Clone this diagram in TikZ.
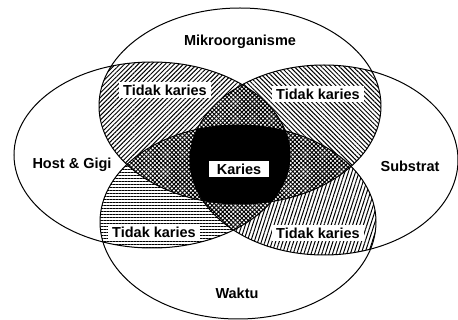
\documentclass[tikz,border=0pt]{standalone}
\usepackage{fontspec}
\setmainfont{Liberation Sans}
\usetikzlibrary{patterns.meta}
\tikzset{
  lbl/.style={font=\bfseries\fontsize{14.5}{16}\selectfont, inner sep=1pt},
  boxlbl/.style={lbl, fill=white, inner xsep=4pt, inner ysep=2.5pt},
  ell/.style={draw=black, line width=1pt},
  hatchA/.style={pattern={Lines[angle=45,distance=3.2pt,line width=1pt]}},
  hatchB/.style={pattern={Lines[angle=-45,distance=3.2pt,line width=1pt]}},
  hatchC/.style={pattern={Lines[angle=0,distance=3pt,line width=1pt]}},
  hatchD/.style={pattern={Lines[angle=72,distance=3.4pt,line width=1pt]}},
  hatchX/.style={pattern={Hatch[angle=45,distance=3pt,line width=1pt]}},
}
\def\Etop{(240,106) ellipse [x radius=141, y radius=98]}
\def\Ehost{(152,155) ellipse [x radius=138, y radius=93]}
\def\Esub{(324,160) ellipse [x radius=134, y radius=95]}
\def\Ewak{(238,222) ellipse [x radius=138, y radius=97]}
\begin{document}
\begin{tikzpicture}[x=1pt,y=-1pt]
\fill[white] (0,0) rectangle (458,320);
\useasboundingbox (0,0) rectangle (458,320);
% two-way overlaps
\begin{scope}\clip \Etop; \clip \Ehost; \fill[hatchA] \Etop; \end{scope}
\begin{scope}\clip \Etop; \clip \Esub; \fill[hatchB] \Etop; \end{scope}
\begin{scope}\clip \Ehost; \clip \Ewak; \fill[hatchC] \Ehost; \end{scope}
\begin{scope}\clip \Esub; \clip \Ewak; \fill[hatchD] \Esub; \end{scope}
% three-way overlaps
\begin{scope}\clip \Etop; \clip \Ehost; \clip \Esub; \fill[white] \Etop; \fill[hatchX] \Etop; \end{scope}
\begin{scope}\clip \Etop; \clip \Ehost; \clip \Ewak; \fill[white] \Etop; \fill[hatchX] \Etop; \end{scope}
\begin{scope}\clip \Etop; \clip \Esub; \clip \Ewak; \fill[white] \Etop; \fill[hatchX] \Etop; \end{scope}
\begin{scope}\clip \Ehost; \clip \Esub; \clip \Ewak; \fill[white] \Ehost; \fill[hatchX] \Ehost; \end{scope}
% four-way overlap
\begin{scope}\clip \Etop; \clip \Ehost; \clip \Esub; \fill[black] \Ewak; \end{scope}
% outlines
\draw[ell] \Etop;
\draw[ell] \Ehost;
\draw[ell] \Esub;
\draw[ell] \Ewak;
% labels
\node[lbl] (mik) at (240,42) {Mikroorganisme};
\node[lbl] (host) at (72,165) {Host \& Gigi};
\node[lbl] (sub) at (410,166) {Substrat};
\node[lbl] (wak) at (237,293) {Waktu};
\node[boxlbl] (tk1) at (165,90) {Tidak karies};
\node[boxlbl] (tk2) at (318,94) {Tidak karies};
\node[boxlbl] (tk3) at (154,232) {Tidak karies};
\node[boxlbl] (tk4) at (318,233) {Tidak karies};
\node[boxlbl, inner xsep=8pt] (kar) at (239,169) {Karies};
\end{tikzpicture}
\end{document}
